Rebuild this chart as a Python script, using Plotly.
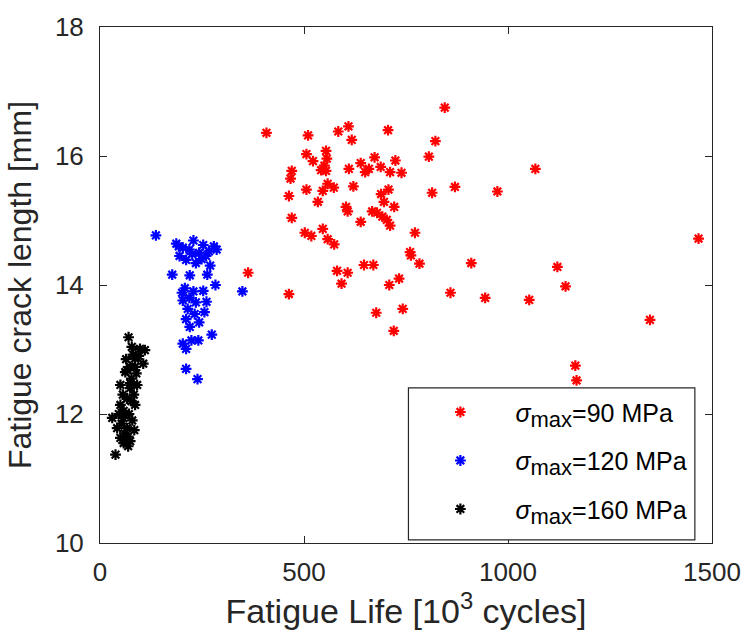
import plotly.graph_objects as go

# ---- data (fatigue life in 10^3 cycles, crack length in mm) ----
red_x = [408, 845, 510, 584, 609, 617, 706, 822, 506, 554, 522, 556, 550, 542, 554,
         470, 467, 610, 639, 673, 688, 724, 650, 659, 711, 739, 806, 558, 573, 546,
         506, 463, 621, 534, 707, 689, 696, 721, 814, 870, 603, 607, 667, 679, 692,
         703, 711, 470, 639, 546, 502, 518, 558, 574, 772, 760, 1067, 974, 762, 783,
         910, 581, 607, 592, 647, 670, 733, 709, 859, 944, 1052, 677, 742, 720, 1467,
         1121, 1141, 1348, 1165, 1168, 363, 463]
red_y = [16.36, 16.75, 16.32, 16.38, 16.46, 16.25, 16.40, 16.23, 16.03, 16.08, 15.92, 15.96, 15.85, 15.78, 15.77,
         15.77, 15.65, 15.80, 15.89, 15.98, 15.83, 15.93, 15.75, 15.80, 15.75, 15.74, 15.99, 15.57, 15.51, 15.46,
         15.48, 15.38, 15.53, 15.29, 15.48, 15.41, 15.29, 15.21, 15.43, 15.52, 15.21, 15.14, 15.14, 15.12, 15.06,
         15.01, 14.92, 15.04, 14.98, 14.87, 14.81, 14.76, 14.71, 14.63, 14.81, 14.51, 15.80, 15.45, 14.46, 14.33,
         14.34, 14.22, 14.19, 14.02, 14.31, 14.31, 14.10, 14.00, 13.88, 13.80, 13.77, 13.57, 13.63, 13.29, 14.72,
         14.28, 13.98, 13.46, 12.75, 12.52, 14.19, 13.86]

blue_x = [137, 187, 229, 279, 195, 243, 260, 235, 211, 267, 219, 253, 203, 177, 220,
          263, 283, 349, 201, 229, 253, 261, 203, 235, 215, 256, 211, 243, 220, 274,
          203, 224, 241, 211, 211, 239, 219, 232, 208, 249, 226, 270, 286, 193]
blue_y = [14.77, 14.64, 14.69, 14.60, 14.45, 14.50, 14.45, 14.34, 14.39, 14.52, 14.55, 14.62, 14.58, 14.16, 14.15,
          14.16, 14.00, 13.90, 13.88, 13.90, 13.91, 13.74, 13.76, 13.73, 13.63, 13.58, 13.47, 13.42, 13.35, 13.23,
          13.09, 13.14, 13.14, 13.01, 12.70, 12.54, 13.80, 13.55, 13.95, 14.40, 14.48, 14.30, 14.55, 14.60]

black_x = [30, 38, 42, 50, 50, 50, 57, 62, 66, 66, 66, 70, 74, 74, 74, 74, 78, 81, 86, 86,
           86, 89, 98, 106, 110, 53, 58, 60, 69, 71, 77, 79, 83, 56, 46, 64, 91, 69, 84, 95,
           58, 77]
black_y = [11.94, 11.37, 11.78, 11.63, 12.14, 12.45, 11.94, 12.65, 12.68, 12.24, 11.78, 13.19, 12.73, 12.48, 12.40,
           11.58, 13.04, 12.92, 12.73, 12.14, 12.86, 12.63, 13.01, 12.78, 12.99, 11.85, 12.05, 11.70, 11.50, 12.00,
           12.20, 11.90, 12.30, 12.30, 12.00, 12.85, 12.45, 11.65, 11.75, 12.90, 11.55, 12.55]

SUB = "<sub><span style='font-size:22px'>max</span></sub>"
series = [
    ("<i>σ</i>" + SUB + "=90 MPa", red_x, red_y, "#ff0000"),
    ("<i>σ</i>" + SUB + "=120 MPa", blue_x, blue_y, "#0000ff"),
    ("<i>σ</i>" + SUB + "=160 MPa", black_x, black_y, "#000000"),
]

x_ticks = [0, 500, 1000, 1500]
y_ticks = [10, 12, 14, 16, 18]

FONT = "Liberation Sans, Arial, Helvetica, sans-serif"
AX = "#262626"

fig = go.Figure()
for i, (name, xs, ys, col) in enumerate(series):
    fig.add_trace(go.Scatter(
        x=xs, y=ys, mode="markers", name=name, legendgroup=f"g{i}",
        marker=dict(symbol="asterisk-open", size=9, color=col,
                    line=dict(color=col, width=2.2)),
    ))

axis_common = dict(
    showline=True, linecolor=AX, linewidth=1, mirror="ticks",
    ticks="inside", ticklen=7, tickcolor=AX, tickwidth=1,
    showgrid=False, zeroline=False,
    tickfont=dict(family=FONT, size=26, color=AX),
)

fig.update_layout(
    width=753, height=633,
    margin=dict(l=100, r=34, t=23, b=90),
    paper_bgcolor="white", plot_bgcolor="white",
    font=dict(family=FONT, color=AX),
    xaxis=dict(range=[0, 1500], tickvals=x_ticks, ticklabelstandoff=6,
               title=dict(text="Fatigue Life [10<sup>3</sup> cycles]",
                          font=dict(family=FONT, size=34, color=AX), standoff=4),
               **axis_common),
    yaxis=dict(range=[10, 18], tickvals=y_ticks, ticklabelstandoff=10,
               title=dict(text="Fatigue crack length [mm]",
                          font=dict(family=FONT, size=32, color=AX), standoff=13),
               **axis_common),
    legend=dict(
        x=0.499, y=0.298, xanchor="left", yanchor="top",
        bgcolor="rgba(0,0,0,0)", borderwidth=0,
        font=dict(family=FONT, size=25, color="#000000"),
        tracegroupgap=13, itemwidth=100,
    ),
    shapes=[dict(type="rect", xref="paper", yref="paper",
                 x0=0.504, x1=0.972, y0=0.006, y1=0.3006,
                 line=dict(color=AX, width=1.2), fillcolor="white", layer="above")],
    showlegend=True,
)

fig.write_html("out.html")
